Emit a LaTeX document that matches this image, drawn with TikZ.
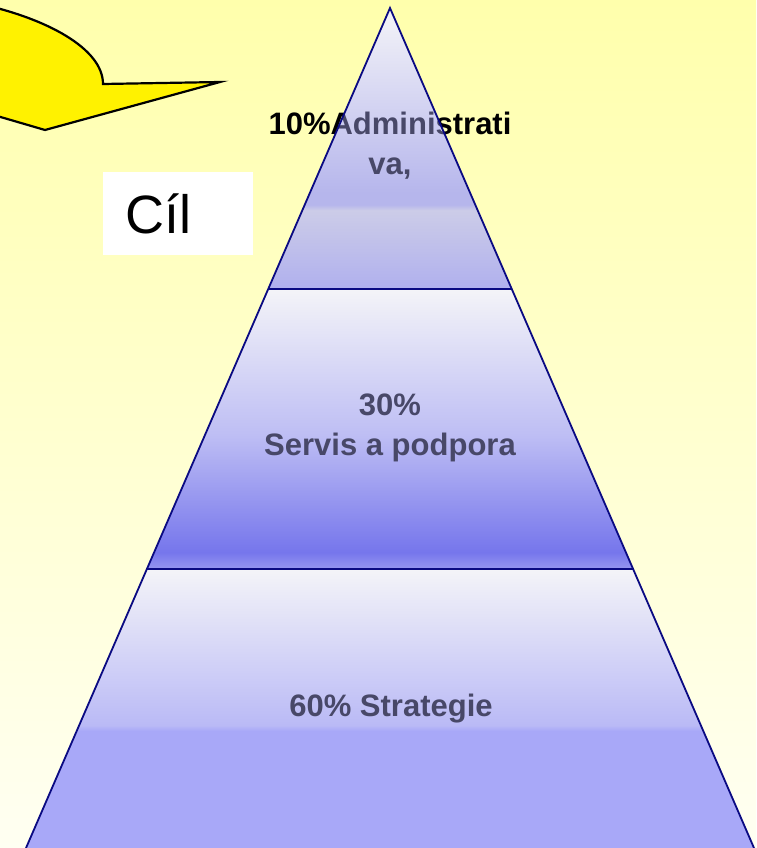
\documentclass[tikz,border=0pt]{standalone}
\usepackage{fontspec}
\setmainfont{Liberation Sans}
\usepackage{tikz}
\usetikzlibrary{calc}

\definecolor{bgtop}{RGB}{255,255,172}
\definecolor{bgbot}{RGB}{255,255,242}
\definecolor{pyrline}{RGB}{10,10,130}
\definecolor{pyrtext}{RGB}{72,72,104}
% colours of the three bands, light at the top
\definecolor{lightband}{RGB}{244,244,248}
\definecolor{topdark}{RGB}{182,182,236}
\definecolor{topmid}{RGB}{204,204,232}
\definecolor{topfoot}{RGB}{176,176,238}
\definecolor{middark}{RGB}{118,118,236}
\definecolor{midmid}{RGB}{190,190,244}
\definecolor{midfoot}{RGB}{150,150,240}
\definecolor{botdark}{RGB}{186,186,246}
\definecolor{botfoot}{RGB}{168,168,248}

% vertical shadings, listed from the bottom (25bp) to the top (75bp)
\pgfdeclareverticalshading{topband}{100bp}{color(0bp)=(topfoot); color(25bp)=(topfoot);
  color(39bp)=(topmid); color(40bp)=(topdark); color(42bp)=(topdark);
  color(75bp)=(lightband); color(100bp)=(lightband)}
\pgfdeclareverticalshading{midband}{100bp}{color(0bp)=(midfoot); color(25bp)=(midfoot);
  color(28bp)=(middark); color(49bp)=(midmid); color(75bp)=(lightband); color(100bp)=(lightband)}
\pgfdeclareverticalshading{botband}{100bp}{color(0bp)=(botfoot); color(25bp)=(botfoot);
  color(46bp)=(botfoot); color(47bp)=(botdark); color(75bp)=(lightband); color(100bp)=(lightband)}

\tikzset{
  bandlabel/.style={font=\bfseries\fontsize{31}{40}\selectfont, align=center, text=pyrtext, inner sep=0pt},
  edgeline/.style={draw=pyrline, line width=1.8pt, line join=miter},
  sepline/.style={draw=pyrline, line width=1.3pt}
}

\begin{document}
\begin{tikzpicture}[x=1pt, y=-1pt]
			%%%%% START %%%%%

			% background
			\shade[top color=bgtop, bottom color=bgbot] (0,0) rectangle (756,848);
			\useasboundingbox (0,0) rectangle (756,848);

			% callout, cut by the left edge
			\filldraw[fill=yellow, draw=black, line width=2.2pt, line join=miter]
				(-20,4) .. controls (45,18) and (103,48) .. (103,84) -- (220,82) -- (45,130)
				-- (-20,111) -- cycle;

			% goal box
			\node[fill=white, minimum width=150pt, minimum height=83pt, inner sep=0pt,
				anchor=north west] (goal) at (103,172) {};
			\node[font=\fontsize{54}{60}\selectfont, anchor=base west, inner sep=0pt]
				(goaltext) at (125,233) {Cíl};

			% pyramid corners
			\coordinate (apex) at (390,8);
			\coordinate (l1) at (268.2,289);
			\coordinate (r1) at (511.8,289);
			\coordinate (l2) at (146.9,569);
			\coordinate (r2) at (633.1,569);
			\coordinate (bl) at (26,848);
			\coordinate (br) at (754,848);

			% top label, black where it sticks out of the pyramid
			\node[bandlabel, text=black] (admin) at (390,146) {10\%Administrati\\va,};

			\shade[shading=topband] (apex) -- (r1) -- (l1) -- cycle;
			\shade[shading=midband] (l1) -- (r1) -- (r2) -- (l2) -- cycle;
			\shade[shading=botband] (l2) -- (r2) -- (br) -- (bl) -- cycle;

			\begin{scope}
				\clip (apex) -- (r1) -- (l1) -- cycle;
				\node[bandlabel] (admininside) at (admin) {10\%Administrati\\va,};
			\end{scope}

			\node[bandlabel] (service) at (390,428) {30\%\\Servis a podpora};
			\node[bandlabel] (strategy) at (391,709) {60\% Strategie};

			\draw[sepline] (l1) -- (r1);
			\draw[sepline] (l2) -- (r2);
			\draw[edgeline] (bl) -- (apex) -- (br);

			%%%%% END %%%%%
\end{tikzpicture}
\end{document}
